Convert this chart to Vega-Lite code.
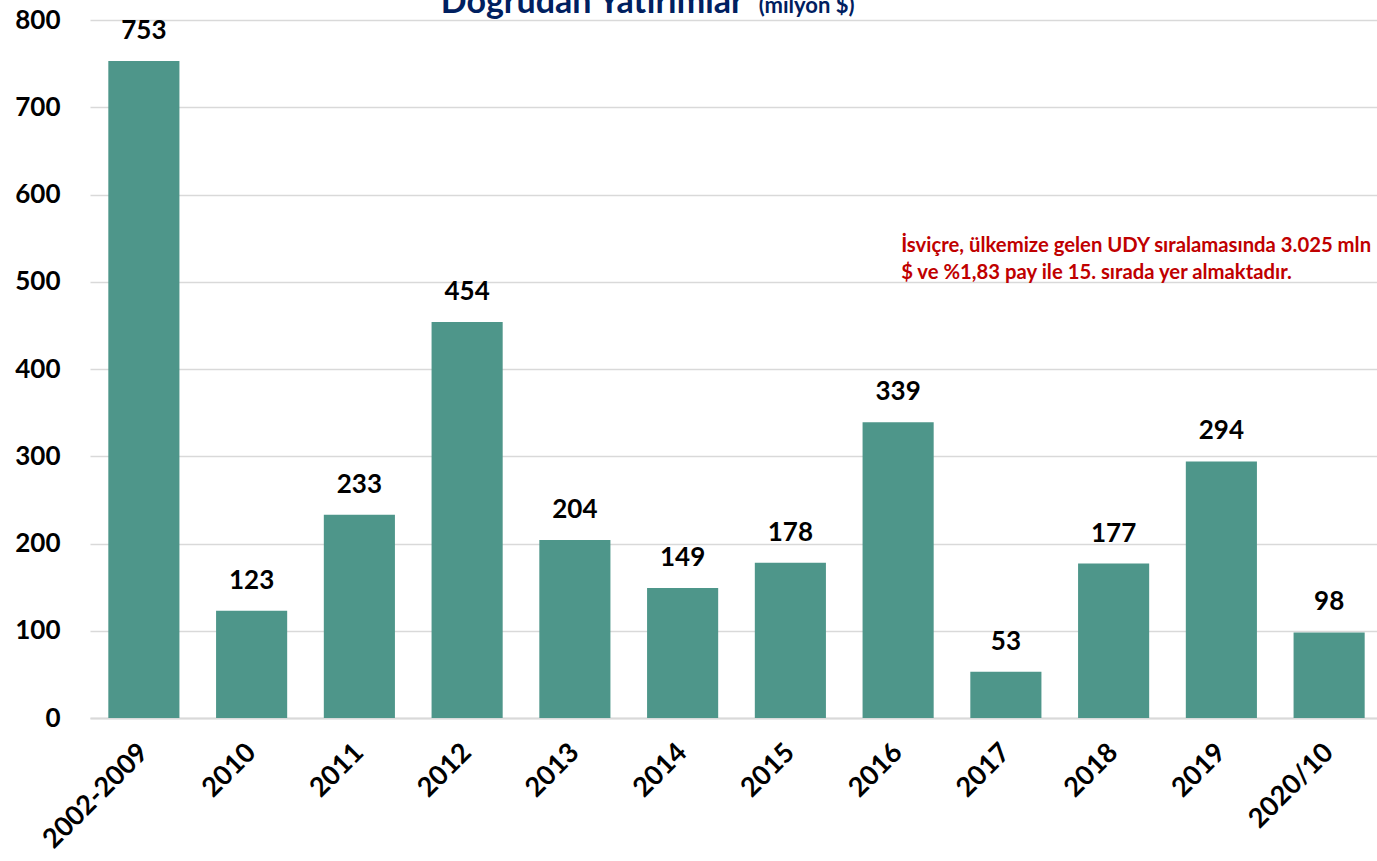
{
  "$schema": "https://vega.github.io/schema/vega-lite/v6.json",
  "autosize": {"type": "none"},
  "width": 1293,
  "height": 698,
  "padding": {"left": 90, "top": 20, "right": 0, "bottom": 143},
  "background": "white",
  "config": {"view": {"stroke": null}, "font": "Lato"},
  "data": {"values": [
    {"period": "2002-2009", "value": 753},
    {"period": "2010", "value": 123},
    {"period": "2011", "value": 233},
    {"period": "2012", "value": 454},
    {"period": "2013", "value": 204},
    {"period": "2014", "value": 149},
    {"period": "2015", "value": 178},
    {"period": "2016", "value": 339},
    {"period": "2017", "value": 53},
    {"period": "2018", "value": 177},
    {"period": "2019", "value": 294},
    {"period": "2020/10", "value": 98}
  ]},
  "encoding": {
    "x": {"field": "period", "type": "nominal", "sort": null,
      "scale": {"paddingInner": 0.34, "paddingOuter": 0.17},
      "axis": {"title": null, "labelAngle": -45, "labelAlign": "right", "labelBaseline": "middle",
        "labelFont": "Lato", "labelFontSize": 27, "labelFontWeight": "bold", "labelColor": "#000000",
        "labelPadding": 30, "ticks": false, "domain": true, "domainColor": "#d9d9d9", "domainWidth": 2, "grid": false}},
    "y": {"field": "value", "type": "quantitative",
      "scale": {"domain": [0, 800], "nice": false},
      "axis": {"title": null, "values": [0,100,200,300,400,500,600,700,800], "labelFont": "Lato", "labelFontSize": 26,
        "labelFontWeight": "bold", "labelColor": "#000000", "labelPadding": 30, "ticks": false, "domain": false,
        "grid": true, "gridColor": "#d9d9d9", "gridWidth": 1.5}}
  },
  "layer": [
    {"mark": {"type": "bar", "color": "#4E968A"}},
    {"mark": {"type": "text", "baseline": "bottom", "dy": -17, "font": "Lato", "fontSize": 26, "fontWeight": "bold", "color": "#000000"},
      "encoding": {"text": {"field": "value", "type": "quantitative"}}},
    {"data": {"values": [{"period": "2016", "value": 541, "note": ["İsviçre, ülkemize gelen UDY sıralamasında 3.025 mln", "$ ve %1,83 pay ile 15. sırada yer almaktadır."]}]},
      "mark": {"type": "text", "align": "left", "baseline": "middle", "dx": 3, "font": "Lato", "fontSize": 20.3, "fontWeight": "bold", "color": "#C00000", "lineHeight": 27},
      "encoding": {"text": {"field": "note"}}},
    {"data": {"values": [{"period": "2014", "value": 808, "t": "Doğrudan Yatırımlar"}]},
      "mark": {"type": "text", "align": "right", "baseline": "alphabetic", "dx": 61, "font": "Lato", "fontSize": 34, "fontWeight": "bold", "color": "#002060"},
      "encoding": {"text": {"field": "t"}}},
    {"data": {"values": [{"period": "2014", "value": 808, "t": "(milyon $)"}]},
      "mark": {"type": "text", "align": "left", "baseline": "alphabetic", "dx": 76, "font": "Lato", "fontSize": 22, "fontWeight": "bold", "color": "#002060"},
      "encoding": {"text": {"field": "t"}}}
  ]
}
